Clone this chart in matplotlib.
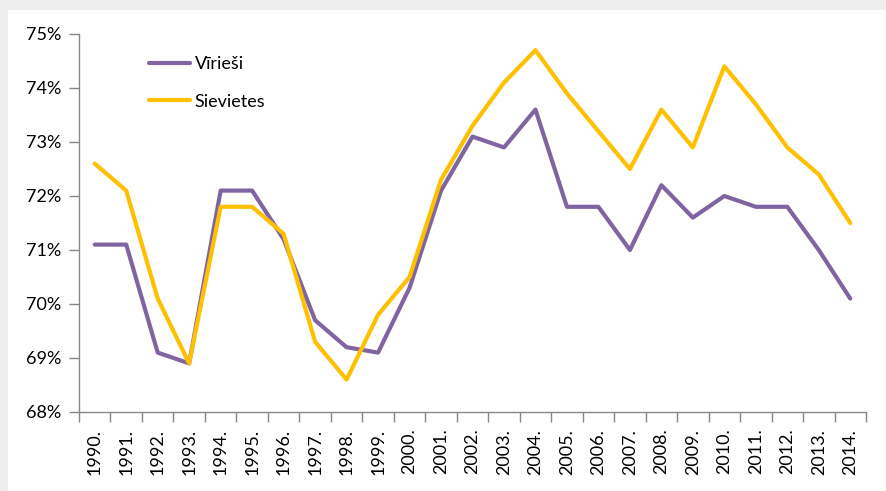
import numpy as np
import matplotlib.pyplot as plt
from matplotlib.patches import Rectangle
from matplotlib.ticker import FixedLocator, PercentFormatter

years = [str(y) + "." for y in range(1990, 2015)]
virriesi = [71.1, 71.1, 69.1, 68.9, 72.1, 72.1, 71.2, 69.7, 69.2, 69.1, 70.3, 72.1, 73.1,
            72.9, 73.6, 71.8, 71.8, 71.0, 72.2, 71.6, 72.0, 71.8, 71.8, 71.0, 70.1]
sievietes = [72.6, 72.1, 70.1, 68.9, 71.8, 71.8, 71.3, 69.3, 68.6, 69.8, 70.5, 72.3, 73.3,
             74.1, 74.7, 73.9, 73.2, 72.5, 73.6, 72.9, 74.4, 73.7, 72.9, 72.4, 71.5]

plt.rcParams['font.family'] = ['Lato', 'DejaVu Sans']

W, H = 886, 491
fig = plt.figure(figsize=(W / 100, H / 100), dpi=100)
fig.patch.set_facecolor('#eeeeee')
# white chart area with a faint shadow on the top and left
fig.patches.append(Rectangle((8 / W, 0), 1, 1 - 10 / H, transform=fig.transFigure,
                             facecolor='white', edgecolor='none', zorder=-10))

ax = fig.add_axes([79 / W, 79 / H, (866 - 79) / W, (412 - 34) / H])
ax.set_facecolor('none')
x = np.arange(len(years))
ax.plot(x, virriesi, color='#8064A2', lw=3, label='Vīrieši', solid_capstyle='round')
ax.plot(x, sievietes, color='#FFC000', lw=3, label='Sievietes', solid_capstyle='round')

ax.set_xlim(-0.5, len(years) - 0.5)
ax.set_ylim(68, 75)
ax.set_yticks(np.arange(68, 76))
ax.yaxis.set_major_formatter(PercentFormatter(decimals=0))
ax.set_xticks(x)
ax.set_xticklabels(years, rotation=90)
ax.xaxis.set_minor_locator(FixedLocator(np.arange(-0.5, len(years), 1)))
ax.tick_params(axis='x', which='major', length=0, pad=12, labelsize=13)
ax.tick_params(axis='x', which='minor', length=7, color='#868686', width=1)
ax.tick_params(axis='y', length=7, color='#868686', width=1, labelsize=13, pad=6)

for s in ['top', 'right']:
    ax.spines[s].set_visible(False)
for s in ['left', 'bottom']:
    ax.spines[s].set_color('#868686')
    ax.spines[s].set_linewidth(1)

ax.legend(loc='upper left', bbox_to_anchor=(0.068, 0.985), frameon=False, fontsize=13,
          handlelength=2.3, handletextpad=0.25, labelspacing=1.2)

fig.savefig('out.png', dpi=100)
